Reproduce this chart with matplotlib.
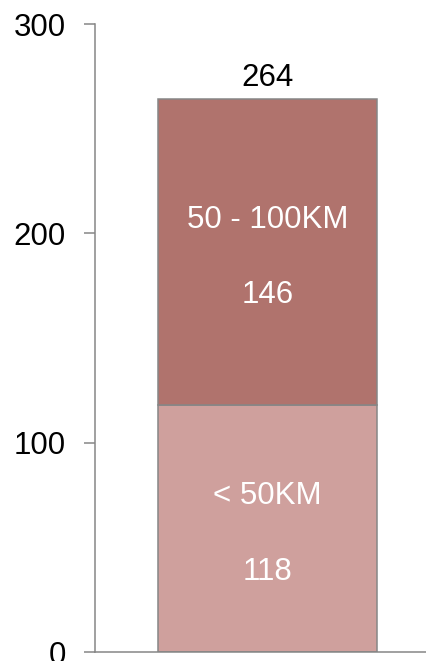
import numpy as np
import matplotlib
matplotlib.use("Agg")
import matplotlib.pyplot as plt

# data
segments = ["< 50KM", "50 - 100KM"]
values = [118, 146]
colors = ["#CFA09D", "#B0736D"]
yticks = [0, 100, 200, 300]

plt.rcParams['font.family'] = ['Liberation Sans', 'DejaVu Sans']

fig = plt.figure(figsize=(4.26, 6.61), dpi=100)
ax = fig.add_axes([95 / 426, 1 - 652 / 661, 331 / 426, (652 - 24) / 661])

gray = "#868686"
fs = 22.5
bottom = 0
for name, val, col in zip(segments, values, colors):
    ax.bar(0, val, width=0.662, bottom=bottom, color=col,
           edgecolor=gray, linewidth=1.1)
    mid = bottom + val / 2
    ax.annotate(name, (0, mid), xytext=(0, 23.5), textcoords="offset points",
                ha="center", va="center", color="white", fontsize=fs)
    ax.annotate(str(val), (0, mid), xytext=(0, -31), textcoords="offset points",
                ha="center", va="center", color="white", fontsize=fs)
    bottom += val

total = sum(values)
ax.annotate(str(total), (0, total), xytext=(0, 15.5), textcoords="offset points",
            ha="center", va="center", color="black", fontsize=fs)

ax.set_xlim(-0.521, 0.479)
ax.set_ylim(0, 300)
ax.set_yticks(yticks)
ax.set_xticks([])
ax.tick_params(axis="y", direction="out", length=8, width=1.1, color=gray,
               pad=13, labelsize=fs)
for s in ["top", "right"]:
    ax.spines[s].set_visible(False)
for s in ["left", "bottom"]:
    ax.spines[s].set_color(gray)
    ax.spines[s].set_linewidth(1.1)

plt.savefig("out.png", dpi=100)
